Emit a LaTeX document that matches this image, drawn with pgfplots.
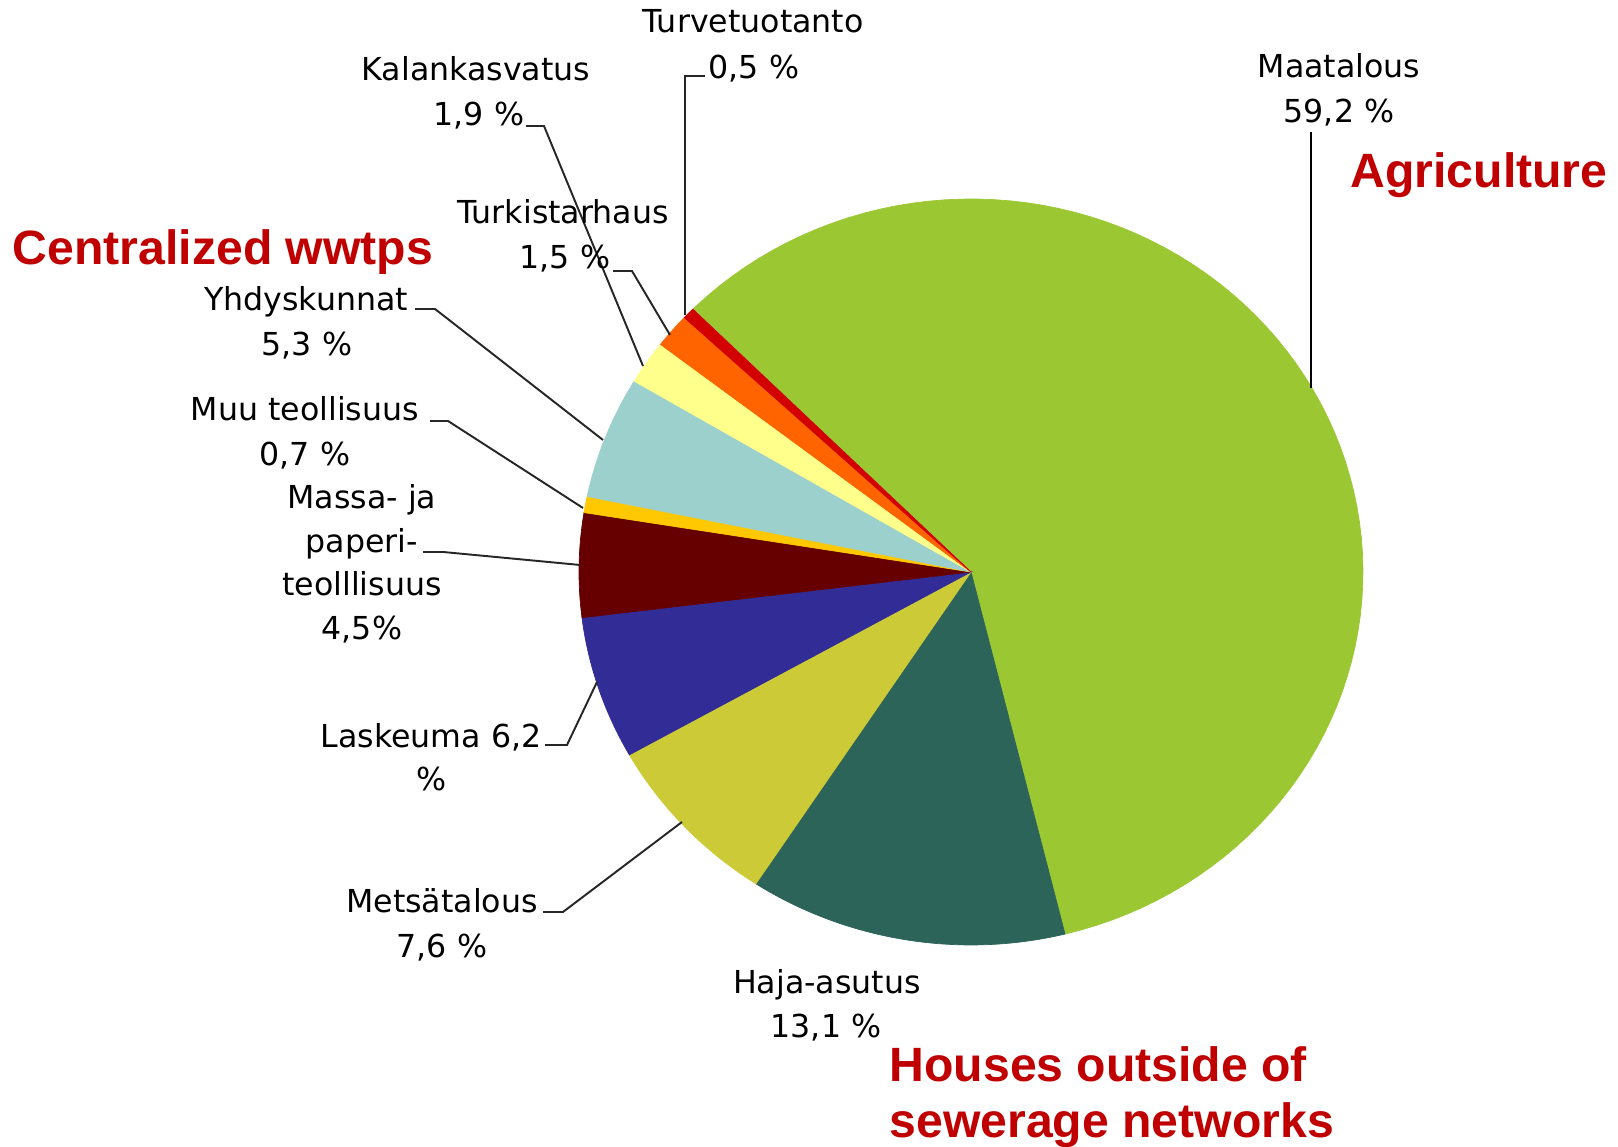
\documentclass[border=0pt]{standalone}
\usepackage{pgfplots}
\pgfplotsset{compat=1.18}
\usepackage{fontspec}
\newfontfamily\lblfont{DejaVu Sans}
\newfontfamily\redfont{Liberation Sans}

\definecolor{cMaa}{RGB}{155,200,50}
\definecolor{cHaja}{RGB}{45,100,90}
\definecolor{cMets}{RGB}{205,202,55}
\definecolor{cLask}{RGB}{50,45,150}
\definecolor{cMassa}{RGB}{102,0,0}
\definecolor{cMuu}{RGB}{255,200,0}
\definecolor{cYhd}{RGB}{155,208,205}
\definecolor{cKal}{RGB}{255,255,140}
\definecolor{cTurk}{RGB}{255,100,0}
\definecolor{cTurv}{RGB}{210,0,0}
\definecolor{cTitle}{RGB}{192,0,0}

% pie geometry (reference pixel units): centre, radii, start angle
\newcommand{\cx}{971}
\newcommand{\cy}{575}
\newcommand{\rx}{392}
\newcommand{\ry}{373}
% one slice from cumulative share #1 (%) to cumulative share #2 (%), clockwise from 137 deg
\newcommand{\slice}[3]{%
  \addplot[fill=#3, draw=#3, line width=0.2pt, domain={137-3.6*(#2)}:{137-3.6*(#1)}, samples=90, variable=\t]
    ({\cx+\rx*cos(\t)},{\cy+\ry*sin(\t)}) -- (\cx,\cy) -- cycle;}

\tikzset{lbl/.style={font=\lblfont\fontsize{9}{12.8}\selectfont, inner sep=0pt, anchor=base},
  ttl/.style={font=\redfont\bfseries\fontsize{13.7}{16}\selectfont, text=cTitle, inner sep=0pt, anchor=base}}

\begin{document}
\begin{tikzpicture}
\begin{axis}[width=16.18cm, height=11.47cm, scale only axis,
  xmin=0, xmax=1618, ymin=0, ymax=1147, axis lines=none, clip=false, no markers]
% shares: Maatalous 59.2, Haja-asutus 13.1, Metsatalous 7.6, Laskeuma 6.2,
% Massa- ja paperiteollisuus 4.5, Muu teollisuus 0.7, Yhdyskunnat 5.3,
% Kalankasvatus 1.9, Turkistarhaus 1.5, Turvetuotanto 0.5
\slice{0}{59.2}{cMaa}
\slice{59.2}{72.3}{cHaja}
\slice{72.3}{79.9}{cMets}
\slice{79.9}{86.1}{cLask}
\slice{86.1}{90.6}{cMassa}
\slice{90.6}{91.3}{cMuu}
\slice{91.3}{96.6}{cYhd}
\slice{96.6}{98.5}{cKal}
\slice{98.5}{100.0}{cTurk}
\slice{100.0}{100.5}{cTurv}

% leader lines
\addplot[black, line width=0.8pt] coordinates {(1311,1015) (1311,759)};
\addplot[black!85, line width=0.55pt] coordinates {(705,1071) (685,1071) (685,832)};
\addplot[black!85, line width=0.55pt] coordinates {(526,1021) (544,1021) (643,781)};
\addplot[black!85, line width=0.55pt] coordinates {(613,876) (632,876) (670,812)};
\addplot[black!85, line width=0.55pt] coordinates {(415,838) (435,838) (603,707)};
\addplot[black!85, line width=0.55pt] coordinates {(430,726) (448,726) (583,639)};
\addplot[black!85, line width=0.55pt] coordinates {(423,595) (443,595) (580,582)};
\addplot[black!85, line width=0.55pt] coordinates {(545,402) (567,402) (597,465)};
\addplot[black!85, line width=0.55pt] coordinates {(543,235) (563,235) (682,325)};

% labels
\node[lbl] at (axis cs:753,1114) {Turvetuotanto};
\node[lbl] at (axis cs:754,1068) {0,5 \%};
\node[lbl] at (axis cs:476,1066) {Kalankasvatus};
\node[lbl] at (axis cs:479,1021) {1,9 \%};
\node[lbl] at (axis cs:563,923) {Turkistarhaus};
\node[lbl] at (axis cs:565,878) {1,5 \%};
\node[lbl] at (axis cs:1339,1069) {Maatalous};
\node[lbl] at (axis cs:1339,1024) {59,2 \%};
\node[lbl] at (axis cs:306,836) {Yhdyskunnat};
\node[lbl] at (axis cs:307,791) {5,3 \%};
\node[lbl] at (axis cs:305,726) {Muu teollisuus};
\node[lbl] at (axis cs:305,681) {0,7 \%};
\node[lbl] at (axis cs:362,638) {Massa- ja};
\node[lbl] at (axis cs:362,594) {paperi-};
\node[lbl] at (axis cs:362,551) {teolllisuus};
\node[lbl] at (axis cs:362,507) {4,5\%};
\node[lbl] at (axis cs:431,399) {Laskeuma 6,2};
\node[lbl] at (axis cs:432,356) {\%};
\node[lbl] at (axis cs:442,234) {Metsätalous};
\node[lbl] at (axis cs:442,189) {7,6 \%};
\node[lbl] at (axis cs:827,153) {Haja-asutus};
\node[lbl] at (axis cs:826,109) {13,1 \%};

% red titles
\node[ttl] at (axis cs:1479,959) {Agriculture};
\node[ttl] at (axis cs:223,882) {Centralized wwtps};
\node[ttl, anchor=base west] at (axis cs:889,65) {Houses outside of};
\node[ttl, anchor=base west] at (axis cs:889,9) {sewerage networks};
\end{axis}
\pgfresetboundingbox
\path (0,0) rectangle (16.18cm,11.47cm);
\end{tikzpicture}
\end{document}
